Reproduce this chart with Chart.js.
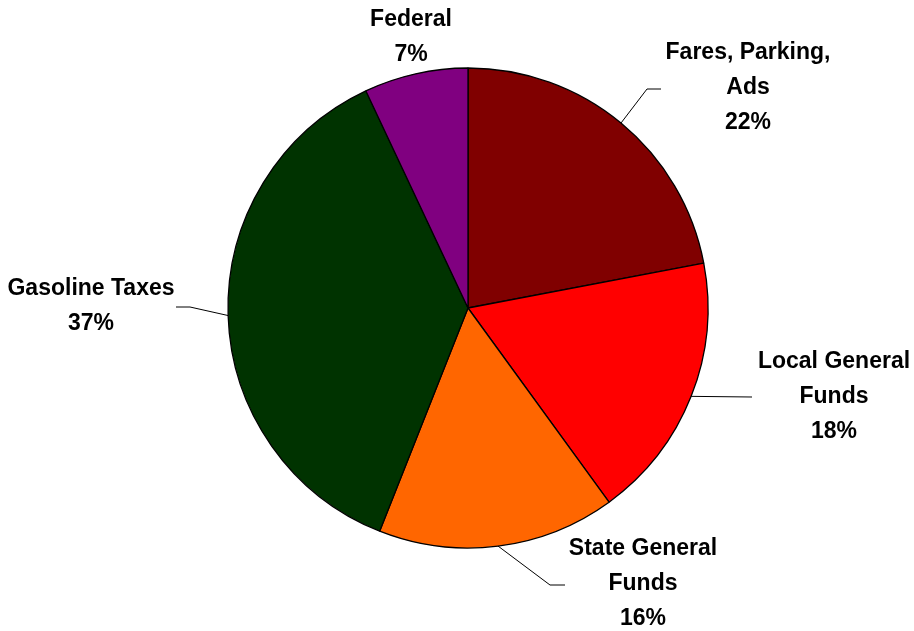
<!DOCTYPE html>
<html>
<head>
<meta charset="utf-8">
<title>Transit Funding Sources</title>
<script src="https://cdn.jsdelivr.net/npm/chart.js@4.4.1/dist/chart.umd.min.js"></script>
<style>
  html, body { margin: 0; padding: 0; background: #fff; }
  #wrap { width: 914px; height: 631px; }
</style>
</head>
<body>
<div id="wrap"><canvas id="fundChart" width="914" height="631"></canvas></div>
<script>
// funding shares, clockwise from 12 o'clock
const categories = ['Fares, Parking, Ads', 'Local General Funds', 'State General Funds', 'Gasoline Taxes', 'Federal'];
const labelLines = [['Fares, Parking,', 'Ads'], ['Local General', 'Funds'], ['State General', 'Funds'], ['Gasoline Taxes'], ['Federal']];
const shares = [22, 18, 16, 37, 7];
const sliceColors = ['#800000', '#ff0000', '#ff6600', '#003300', '#800080'];

// where each label block sits and how its leader line bends
const labelLayout = [
    { x: 748, y: 59, elbow: [647, 89], end: [661, 89] },
    { x: 834, y: 368, elbow: [752, 397], end: [752, 397] },
    { x: 643, y: 555, elbow: [550, 585], end: [565, 585] },
    { x: 91, y: 295, elbow: [190, 307], end: [176, 307] },
    { x: 411, y: 26, elbow: null, end: null }
];
const lineGap = 35;

const outsideLabels = {
    id: 'outsideLabels',
    afterDatasetsDraw(chart) {
        const ctx = chart.ctx;
        const arcs = chart.getDatasetMeta(0).data;
        ctx.save();
        ctx.strokeStyle = '#000';
        ctx.lineWidth = 1;
        arcs.forEach((arc, i) => {
            const pos = labelLayout[i];
            if (pos.elbow) {
                const mid = (arc.startAngle + arc.endAngle) / 2;
                const sx = arc.x + Math.cos(mid) * arc.outerRadius;
                const sy = arc.y + Math.sin(mid) * arc.outerRadius;
                ctx.beginPath();
                ctx.moveTo(sx, sy);
                ctx.lineTo(pos.elbow[0], pos.elbow[1]);
                ctx.lineTo(pos.end[0], pos.end[1]);
                ctx.stroke();
            }
            const lines = labelLines[i].concat([shares[i] + '%']);
            ctx.fillStyle = '#000';
            ctx.font = 'bold 23px "Liberation Sans", Arial, sans-serif';
            ctx.textAlign = 'center';
            ctx.textBaseline = 'alphabetic';
            lines.forEach((txt, k) => {
                ctx.fillText(txt, pos.x, pos.y + k * lineGap);
            });
        });
        ctx.restore();
    }
};

new Chart(document.getElementById('fundChart'), {
    type: 'pie',
    data: {
        labels: categories,
        datasets: [{
            data: shares,
            backgroundColor: sliceColors,
            borderColor: '#000',
            borderWidth: 1.3,
            radius: 240
        }]
    },
    options: {
        responsive: false,
        animation: false,
        layout: { padding: { left: 22, right: 0, top: 0, bottom: 15 } },
        plugins: {
            legend: { display: false },
            tooltip: { enabled: false }
        }
    },
    plugins: [outsideLabels]
});
</script>
</body>
</html>
